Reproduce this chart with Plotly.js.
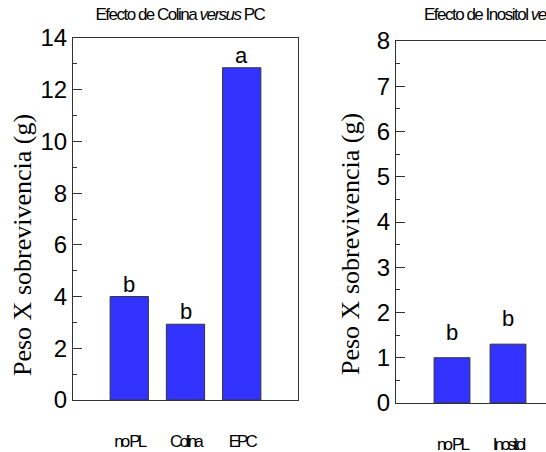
<!DOCTYPE html>
<html><head><meta charset="utf-8">
<script src="https://cdn.plot.ly/plotly-3.0.1.min.js"></script>
<style>
html,body{margin:0;padding:0;overflow:hidden;background:#fff}
#chart{width:700px;height:452px}
.xtick text,.x2tick text{letter-spacing:-2.9px}
</style></head><body><div id="chart"></div>
<script>
// Panel A: Efecto de Colina versus PC
const catsA = ['no PL', 'Colina', 'EPC'];
const valsA = [4.0, 2.93, 12.85];
const lettersA = ['b', 'b', 'a'];
// Panel B: Efecto de Inositol versus PI (cut off at right edge)
const catsB = ['no PL', 'Inositol'];
const valsB = [1.0, 1.3];
const lettersB = ['b', 'b'];

const titleA = 'Efecto de Colina <i>versus</i> PC';
const titleB = 'Efecto de Inositol <i>versus</i> PI';
const yTitle = 'Peso X sobrevivencia (g)';

const W = 700, H = 452;
const BAR = '#3333ff', EDGE = '#333333';
const SANS = 'Liberation Sans, Arial, sans-serif';
const SERIF = 'Liberation Serif, Times New Roman, serif';

const traces = [
  {type: 'bar', x: catsA, y: valsA, xaxis: 'x', yaxis: 'y', width: 0.68,
   marker: {color: BAR, line: {color: EDGE, width: 1}}, hoverinfo: 'x+y'},
  {type: 'bar', x: catsB, y: valsB, xaxis: 'x2', yaxis: 'y2', width: 0.64,
   marker: {color: BAR, line: {color: EDGE, width: 1}}, hoverinfo: 'x+y'}
];

function xAxis(anchor, dom, cats) {
  return {domain: dom, anchor: anchor, type: 'category', categoryarray: cats,
    range: [-1, 3], showline: true, linecolor: '#333', linewidth: 1, mirror: true,
    ticks: '', showgrid: false, zeroline: false, fixedrange: true,
    tickfont: {family: SANS, size: 17, color: '#000'}, ticklabelstandoff: 26};
}
function yAxis(anchor, dom, maxV, dt, mdt) {
  return {domain: dom, anchor: anchor, range: [0, maxV], tickmode: 'linear', tick0: 0, dtick: dt,
    showline: true, linecolor: '#333', linewidth: 1, mirror: true,
    ticks: 'inside', ticklen: 9, tickcolor: '#333', showgrid: false, zeroline: false,
    minor: {ticks: 'inside', ticklen: 4, dtick: mdt, tick0: 0, tickcolor: '#333'},
    tickfont: {family: SANS, size: 24, color: '#000'}, fixedrange: true};
}

const annotations = [];
catsA.forEach((c, i) => annotations.push({xref: 'x', yref: 'y', x: c, y: valsA[i], text: lettersA[i],
  showarrow: false, yanchor: 'bottom', yshift: -2, font: {family: SANS, size: 22, color: '#000'}}));
catsB.forEach((c, i) => annotations.push({xref: 'x2', yref: 'y2', x: c, y: valsB[i], text: lettersB[i],
  showarrow: false, yanchor: 'bottom', yshift: 11, font: {family: SANS, size: 22, color: '#000'}}));
annotations.push({xref: 'paper', yref: 'paper', x: 180 / W, y: 1 - 14 / H, text: titleA, showarrow: false,
  xanchor: 'center', yanchor: 'middle', font: {family: SANS, size: 17, color: '#000'}});
annotations.push({xref: 'paper', yref: 'paper', x: 506 / W, y: 1 - 14 / H, text: titleB, showarrow: false,
  xanchor: 'center', yanchor: 'middle', font: {family: SANS, size: 17, color: '#000'}});
annotations.push({xref: 'paper', yref: 'paper', x: 22 / W, y: 1 - 245 / H, text: yTitle, textangle: -90,
  showarrow: false, xanchor: 'center', yanchor: 'middle', font: {family: SERIF, size: 26, color: '#000'}});
annotations.push({xref: 'paper', yref: 'paper', x: 351 / W, y: 1 - 244 / H, text: yTitle, textangle: -90,
  showarrow: false, xanchor: 'center', yanchor: 'middle', font: {family: SERIF, size: 26, color: '#000'}});

const layout = {
  width: W, height: H, margin: {l: 0, r: 0, t: 0, b: 0},
  paper_bgcolor: '#fff', plot_bgcolor: '#fff', showlegend: false,
  xaxis: xAxis('y', [73 / W, 298 / W], catsA),
  yaxis: yAxis('x', [(H - 400) / H, (H - 38) / H], 14, 2, 1),
  xaxis2: xAxis('y2', [396 / W, 620 / W], catsB),
  yaxis2: yAxis('x2', [(H - 403) / H, (H - 41) / H], 8, 1, 0.5),
  annotations: annotations
};

Plotly.newPlot('chart', traces, layout, {staticPlot: true, displayModeBar: false}).then(() => {
  document.querySelectorAll('.annotation-text').forEach(t => {
    if (t.textContent.indexOf('Efecto') === 0) t.style.letterSpacing = '-1.5px';
  });
});
</script></body></html>
